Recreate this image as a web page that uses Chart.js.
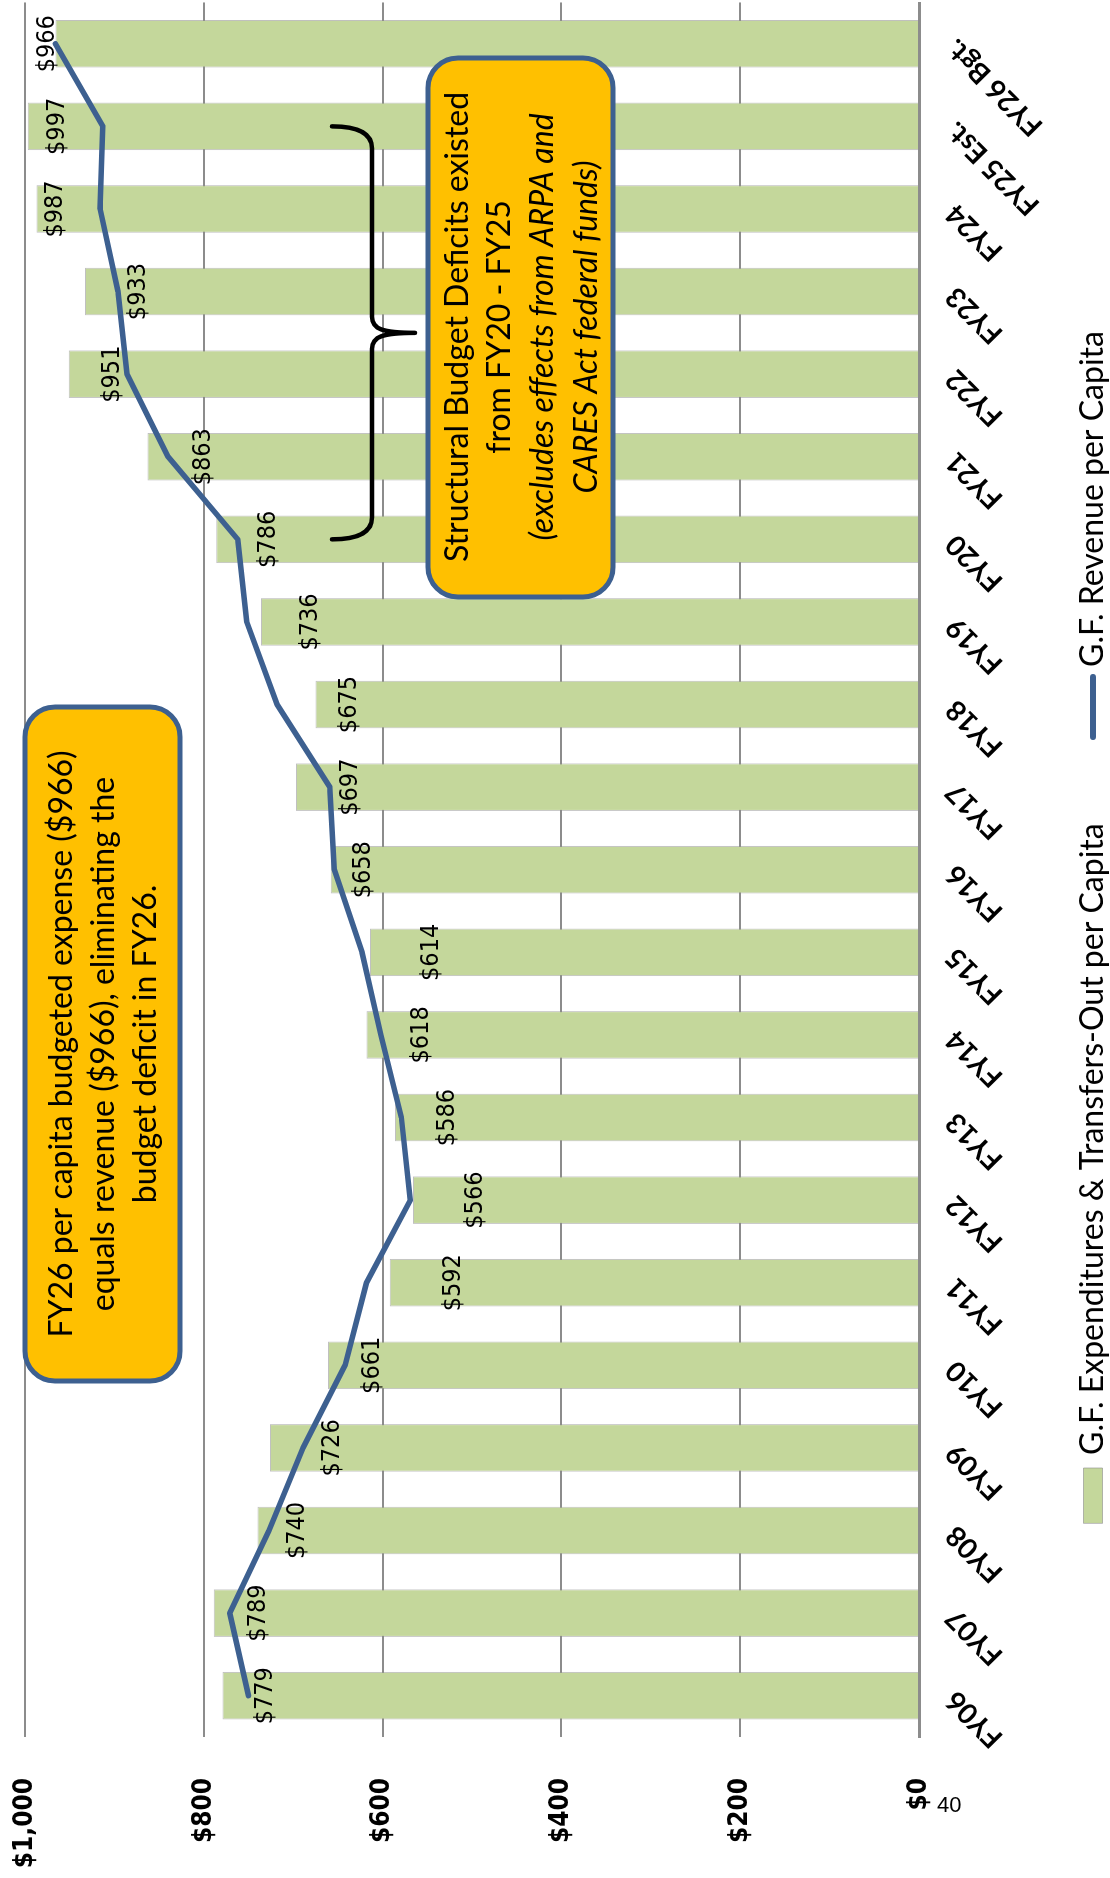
<!DOCTYPE html>
<html>
<head>
  <meta charset="UTF-8">
  <title>G.F. Expenditures and Revenue per Capita</title>
  <script src="https://cdn.jsdelivr.net/npm/chart.js@4.4.1/dist/chart.umd.min.js"></script>
  <style>
    html, body { margin: 0; padding: 0; background: #fff; overflow: hidden; }
    #page { position: relative; width: 1110px; height: 1878px; }
    /* the chart is laid out landscape and turned a quarter to the left */
    #turn { position: absolute; left: 0; top: 0; width: 1878px; height: 1110px;
            transform-origin: 0 0; transform: translateY(1878px) rotate(-90deg); }
    #pageNo { position: absolute; left: 937px; top: 1792px;
              font: 22px "Liberation Sans Narrow", "Liberation Sans", sans-serif; color: #000; }
  </style>
</head>
<body>
  <div id="page">
    <div id="turn"><canvas id="chartPerCapita" width="1878" height="1110"></canvas></div>
    <div id="pageNo">40</div>
  </div>

  <script>
    const years = ["FY06", "FY07", "FY08", "FY09", "FY10", "FY11", "FY12", "FY13", "FY14", "FY15", "FY16",
                   "FY17", "FY18", "FY19", "FY20", "FY21", "FY22", "FY23", "FY24", "FY25 Est.", "FY26 Bgt."];
    const expenditures = [779, 789, 740, 726, 661, 592, 566, 586, 618, 614, 658,
                          697, 675, 736, 786, 863, 951, 933, 987, 997, 966];
    const revenue = [750, 771, 727, 689, 642, 618, 569, 579, 602, 623, 654,
                     659, 718, 752, 762, 840, 886, 896, 916, 913, 966];
    const valueTicks = [0, 200, 400, 600, 800, 1000];

    const GREEN = "#c4d79b";
    const BLUE = "#3d6090";
    const GOLD = "#ffc000";
    const GRID = "#8c8c8c";
    const SANS = "Lato, 'Open Sans', sans-serif";
    const NUMS = "'DejaVu Sans Condensed', 'DejaVu Sans', sans-serif";

    const money = v => "$" + v.toLocaleString("en-US");

    // how far below the top of each bar its value sits
    const labelDrop = [30, 32, 28, 50, 32, 51, 50, 40, 42, 49, 20, 42, 21, 37, 40, 44, 31, 41, 6, 17, -20];

    const barLabels = {
      id: "barLabels",
      afterDatasetsDraw(chart) {
        const ctx = chart.ctx;
        const bars = chart.getDatasetMeta(0).data;
        ctx.save();
        ctx.font = "25px " + NUMS;
        ctx.fillStyle = "#000";
        ctx.textAlign = "center";
        ctx.textBaseline = "top";
        bars.forEach((bar, i) => ctx.fillText(money(expenditures[i]), bar.x, bar.y + labelDrop[i]));
        ctx.restore();
      }
    };

    function callout(ctx, x, y, w, h, r) {
      ctx.beginPath();
      ctx.moveTo(x + r, y);
      ctx.arcTo(x + w, y, x + w, y + h, r);
      ctx.arcTo(x + w, y + h, x, y + h, r);
      ctx.arcTo(x, y + h, x, y, r);
      ctx.arcTo(x, y, x + w, y, r);
      ctx.closePath();
      ctx.fillStyle = GOLD;
      ctx.fill();
      ctx.lineWidth = 5;
      ctx.strokeStyle = BLUE;
      ctx.stroke();
    }

    function lines(ctx, cx, rows) {
      ctx.fillStyle = "#000";
      ctx.textAlign = "center";
      ctx.textBaseline = "alphabetic";
      rows.forEach(([text, y, italic]) => {
        ctx.font = (italic ? "italic " : "") + "32px " + SANS;
        ctx.fillText(text, cx, y);
      });
    }

    const notes = {
      id: "notes",
      afterDraw(chart) {
        const ctx = chart.ctx;
        const x = chart.scales.x;
        ctx.save();

        // brace under the FY20 - FY25 deficit years
        const x0 = x.getPixelForValue(years.indexOf("FY20"));
        const x1 = x.getPixelForValue(years.indexOf("FY25 Est."));
        const xm = (x0 + x1) / 2;
        const yArm = 332, ySpine = 372, yTip = 415;
        ctx.beginPath();
        ctx.moveTo(x0, yArm);
        ctx.quadraticCurveTo(x0, ySpine, x0 + 22, ySpine);
        ctx.lineTo(xm - 16, ySpine);
        ctx.bezierCurveTo(xm - 4, ySpine, xm, ySpine + 10, xm, yTip);
        ctx.bezierCurveTo(xm, ySpine + 10, xm + 4, ySpine, xm + 16, ySpine);
        ctx.lineTo(x1 - 22, ySpine);
        ctx.quadraticCurveTo(x1, ySpine, x1, yArm);
        ctx.lineWidth = 4.5;
        ctx.lineCap = "round";
        ctx.lineJoin = "round";
        ctx.strokeStyle = "#000";
        ctx.stroke();

        callout(ctx, 1281, 428, 539, 185, 30);
        lines(ctx, 1551, [
          ["Structural Budget Deficits existed", 468, false],
          ["from FY20 - FY25", 510, false],
          ["(excludes effects from ARPA and", 553, true],
          ["CARES Act federal funds)", 597, true]
        ]);

        callout(ctx, 497, 25, 674, 155, 30);
        lines(ctx, 834, [
          ["FY26 per capita budgeted expense ($966)", 72, false],
          ["equals revenue ($966), eliminating the", 114, false],
          ["budget deficit in FY26.", 156, false]
        ]);

        // legend
        const ly = 1093;
        ctx.fillStyle = GREEN;
        ctx.fillRect(355, ly - 9.5, 55, 19);
        ctx.lineWidth = 1;
        ctx.strokeStyle = "rgba(140,140,140,0.6)";
        ctx.strokeRect(355, ly - 9.5, 55, 19);
        ctx.beginPath();
        ctx.moveTo(1141, ly);
        ctx.lineTo(1201, ly);
        ctx.lineWidth = 6;
        ctx.lineCap = "round";
        ctx.strokeStyle = BLUE;
        ctx.stroke();
        ctx.font = "32px " + SANS;
        ctx.fillStyle = "#000";
        ctx.textAlign = "left";
        ctx.textBaseline = "middle";
        ctx.fillText(chart.data.datasets[0].label, 423, ly);
        ctx.fillText(chart.data.datasets[1].label, 1211, ly);

        ctx.restore();
      }
    };

    const chartPerCapita = new Chart(document.getElementById("chartPerCapita"), {
      type: "bar",
      data: {
        labels: years,
        datasets: [
          {
            type: "bar",
            label: "G.F. Expenditures & Transfers-Out per Capita",
            data: expenditures,
            backgroundColor: GREEN,
            borderColor: "rgba(140,140,140,0.55)",
            borderWidth: 1,
            barPercentage: 0.576,
            categoryPercentage: 1,
            order: 2
          },
          {
            type: "line",
            label: "G.F. Revenue per Capita",
            data: revenue,
            borderColor: BLUE,
            borderWidth: 5.5,
            pointRadius: 0,
            tension: 0,
            borderJoinStyle: "round",
            borderCapStyle: "round",
            order: 1
          }
        ]
      },
      options: {
        responsive: false,
        animation: false,
        layout: { padding: { top: 25, right: 0, bottom: 0, left: 0 } },
        plugins: { legend: { display: false }, tooltip: { enabled: false } },
        scales: {
          x: {
            grid: { display: false, drawTicks: false },
            border: { display: true, color: GRID, width: 3 },
            ticks: {
              color: "#000",
              font: { family: SANS, weight: "bold", size: 28 },
              minRotation: 45,
              maxRotation: 45,
              autoSkip: false,
              padding: 20
            },
            afterFit: s => { s.height = 191; }
          },
          y: {
            min: 0,
            max: 1000,
            afterBuildTicks: s => { s.ticks = valueTicks.map(v => ({ value: v })); },
            grid: { color: GRID, lineWidth: 2, drawTicks: false },
            border: { display: false },
            ticks: {
              color: "#000",
              font: { family: NUMS, weight: "bold", size: 26 },
              padding: 41,
              callback: v => money(v)
            },
            afterFit: s => { s.width = 141; s.paddingTop = 0; s.paddingBottom = 0; }
          }
        }
      },
      plugins: [barLabels, notes]
    });
  </script>
</body>
</html>
